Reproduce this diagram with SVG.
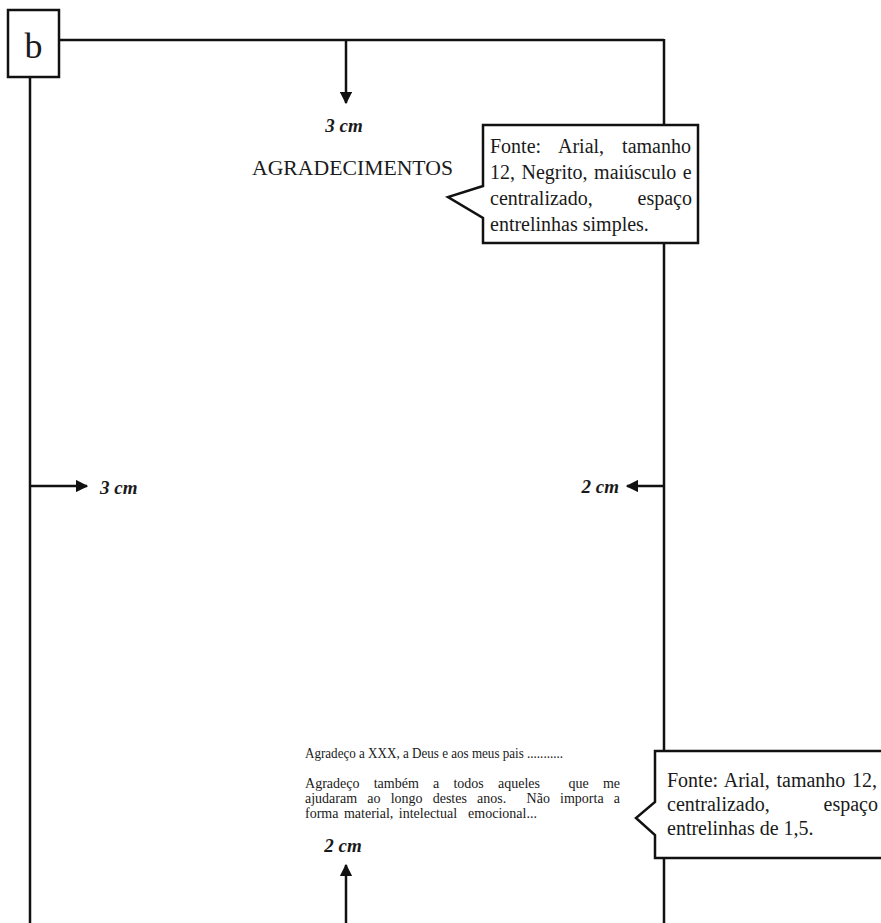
<svg xmlns="http://www.w3.org/2000/svg" width="881" height="923" viewBox="0 0 881 923">
<defs>
<style>
.ln{stroke:#111;stroke-width:2.5;fill:none}
.box{stroke:#111;stroke-width:2.5;fill:#fff}
.t{font-family:"Liberation Serif","Times New Roman",serif;fill:#1a1a1a}
.cm{font-family:"Liberation Serif","Times New Roman",serif;font-weight:bold;font-style:italic;font-size:19px;fill:#1a1a1a}
.co{font-size:20px}
.p{font-size:14px}
</style>
<marker id="ah" viewBox="0 0 10 10" refX="9" refY="5" markerWidth="5" markerHeight="5" orient="auto" markerUnits="strokeWidth">
<path d="M0,0 L10,5 L0,10 Z" fill="#111"/>
</marker>
</defs>
<rect width="881" height="923" fill="#fff"/>
<g id="page">
<line class="ln" x1="59" y1="40" x2="664" y2="40"/>
<line class="ln" x1="664" y1="39" x2="664" y2="923"/>
<line class="ln" x1="30" y1="77" x2="30" y2="923"/>
</g>
<g id="label-b">
<rect class="box" x="8" y="10" width="51" height="67" stroke-width="2"/>
<text class="t" x="33.5" y="58" font-size="36" text-anchor="middle">b</text>
</g>
<g id="connectors">
<line class="ln" x1="346" y1="41" x2="346" y2="103" marker-end="url(#ah)"/>
<line class="ln" x1="31" y1="486" x2="87" y2="486" marker-end="url(#ah)"/>
<line class="ln" x1="663" y1="486" x2="627" y2="486" marker-end="url(#ah)"/>
<line class="ln" x1="346" y1="923" x2="346" y2="865" marker-end="url(#ah)"/>
</g>
<g id="margin-top"><text class="cm" x="344" y="132" text-anchor="middle">3 cm</text></g>
<g id="margin-left"><text class="cm" x="100" y="494">3 cm</text></g>
<g id="margin-right"><text class="cm" x="619" y="493" text-anchor="end">2 cm</text></g>
<g id="margin-bottom"><text class="cm" x="343" y="852" text-anchor="middle">2 cm</text></g>
<g id="title"><text class="t" x="252" y="175" font-size="21" textLength="201" lengthAdjust="spacingAndGlyphs">AGRADECIMENTOS</text></g>
<g id="callout-title">
<path class="box" d="M483,125 H698 V243 H483 V218 L448,197 L483,186 Z"/>
<text class="t co" x="490" y="153" word-spacing="13">Fonte: Arial, tamanho</text>
<text class="t co" x="490" y="179" word-spacing="1.5">12, Negrito, maiúsculo e</text>
<text class="t co" x="490" y="205">centralizado,</text>
<text class="t co" x="692" y="205" text-anchor="end">espaço</text>
<text class="t co" x="490" y="231">entrelinhas simples.</text>
</g>
<g id="body-text">
<text class="t p" x="305" y="758" textLength="258" lengthAdjust="spacingAndGlyphs">Agradeço a XXX, a Deus e aos meus pais ...........</text>
<text class="t p" x="305" y="788" xml:space="preserve" word-spacing="10.7" textLength="315" lengthAdjust="spacing">Agradeço também a todos aqueles  que me</text>
<text class="t p" x="305" y="803" xml:space="preserve" word-spacing="6.7" textLength="315" lengthAdjust="spacing">ajudaram ao longo destes anos.  Não importa a</text>
<text class="t p" x="305" y="818" xml:space="preserve" word-spacing="2">forma material, intelectual  emocional...</text>
</g>
<g id="callout-body">
<path class="box" d="M655,751 H895 V858 H655 V835 L636,818 L655,802 Z"/>
<text class="t co" x="667" y="787" word-spacing="1.7">Fonte: Arial, tamanho 12,</text>
<text class="t co" x="667" y="811">centralizado,</text>
<text class="t co" x="878" y="811" text-anchor="end">espaço</text>
<text class="t co" x="667" y="835">entrelinhas de 1,5.</text>
</g>
</svg>
